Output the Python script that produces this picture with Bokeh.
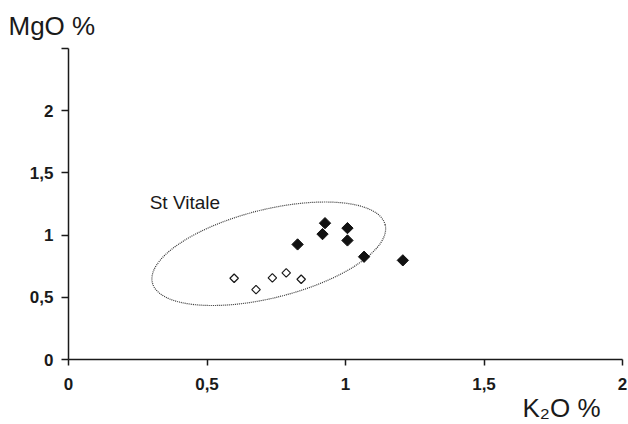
from bokeh.plotting import figure
from bokeh.models import FixedTicker, CustomJSTickFormatter, Label, Title
from bokeh.embed import file_html
from bokeh.resources import INLINE
import math

# Data (K2O %, MgO %)
filled_k2o = [0.827, 0.926, 0.917, 1.007, 1.007, 1.067, 1.207]
filled_mgo = [0.925, 1.096, 1.008, 1.056, 0.957, 0.826, 0.797]
open_k2o = [0.598, 0.677, 0.736, 0.786, 0.840]
open_mgo = [0.653, 0.562, 0.656, 0.696, 0.645]

# St Vitale field ellipse (center, width, height, angle in degrees)
ell_x = [0.723]
ell_y = [0.850]
ell_w = [0.866]
ell_h = [0.710]
ell_angle_deg = [14.0]

x_ticks = [0, 0.5, 1, 1.5, 2]
y_ticks = [0, 0.5, 1, 1.5, 2, 2.5]

FONT = "Liberation Sans"
INK = "#1a1a1a"

p = figure(width=628, height=424, x_range=(0, 2), y_range=(0, 2.5),
           output_backend="svg", toolbar_location=None,
           min_border_left=68, min_border_right=6,
           min_border_top=47, min_border_bottom=65)

p.grid.visible = False
p.outline_line_color = None
p.background_fill_color = "white"
p.border_fill_color = "white"

fmt = CustomJSTickFormatter(code="""
if (Math.abs(tick - 2.5) < 1e-9) { return ""; }
return tick.toString().replace(".", ",");
""")

for ax, ticks in ((p.xaxis, x_ticks), (p.yaxis, y_ticks)):
    ax.ticker = FixedTicker(ticks=ticks)
    ax.formatter = fmt
    ax.minor_tick_line_color = None
    ax.major_tick_in = 0
    ax.axis_line_color = INK
    ax.axis_line_width = 1.5
    ax.major_tick_line_color = INK
    ax.major_tick_line_width = 1.5
    ax.major_label_text_font = FONT
    ax.major_label_text_font_style = "bold"
    ax.major_label_text_font_size = "17px"
    ax.major_label_text_color = INK

p.xaxis.major_tick_out = 6
p.xaxis.major_label_standoff = 12
p.yaxis.major_tick_out = 7
p.yaxis.major_label_standoff = 8

# Axis titles
p.title.text = "MgO %"
p.title.align = "left"
p.title.offset = -60
p.title.vertical_align = "bottom"
p.title.standoff = 16
p.title.text_font = FONT
p.title.text_font_style = "normal"
p.title.text_font_size = "26px"
p.title.text_color = INK

p.add_layout(Title(text="K₂O %", align="right", offset=22, vertical_align="top",
                   standoff=0, text_font=FONT, text_font_style="normal",
                   text_font_size="26px", text_color=INK), "below")

# Ellipse field
p.ellipse(x=ell_x, y=ell_y, width=ell_w, height=ell_h,
          angle=[math.radians(a) for a in ell_angle_deg],
          fill_color=None, line_color="#333333", line_width=1.2,
          line_dash="1 1")

# Points
p.scatter(open_k2o, open_mgo, marker="square", size=6, angle=math.pi / 4,
          fill_color="white", line_color=INK, line_width=1.2)
p.scatter(filled_k2o, filled_mgo, marker="square", size=8, angle=math.pi / 4,
          fill_color="#111111", line_color="#111111", line_width=1)

# Field label
p.add_layout(Label(x=0.293, y=1.26, text="St Vitale", text_font=FONT,
                   text_font_size="19px", text_color=INK,
                   text_baseline="alphabetic"))

open("out.html", "w").write(file_html(p, INLINE))
